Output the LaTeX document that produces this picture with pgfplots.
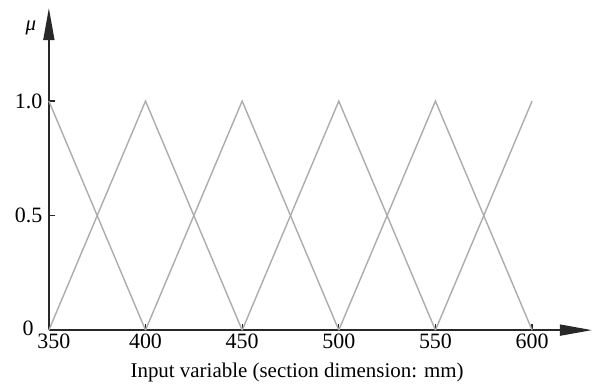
\documentclass[border=0pt]{standalone}
\usepackage{fontspec}
\setmainfont{Liberation Serif}
\usepackage{pgfplots}
\pgfplotsset{compat=1.18}
\usetikzlibrary{arrows.meta}
\definecolor{mf}{RGB}{172,172,172}
\definecolor{ax}{RGB}{40,40,40}
\begin{document}
\begin{tikzpicture}[x=1bp,y=1bp]
\begin{axis}[
  scale only axis, width=543bp, height=322bp,
  xmin=350, xmax=631, ymin=0, ymax=1.406,
  axis lines=left,
  axis line style={ax, line width=1.6bp},
  x axis line style={-{Triangle[length=32bp,width=11bp]}},
  y axis line style={-{Triangle[length=32bp,width=11bp]}},
  xtick={400,450,500,550,600},
  extra x ticks={350},
  extra x tick style={xticklabel style={xshift=5bp}},
  ytick={0.5,1},
  yticklabels={0.5,1.0},
  extra y ticks={0},
  extra y tick labels={0},
  extra y tick style={yticklabel style={xshift=-11bp, yshift=2bp, inner sep=1bp}},
  tick align=inside,
  major tick length=6bp,
  tick style={ax, line width=1.2bp},
  /pgf/number format/assume math mode=true,
  ticklabel style={font=\fontsize{22}{25}\selectfont},
  xticklabel style={yshift=-3bp, inner sep=1bp},
  yticklabel style={xshift=-3bp},
  xlabel={Input variable (section dimension: mm)},
  xlabel style={font=\fontsize{21}{24}\selectfont, at={(rel axis cs:0.457,-0.13)}, anchor=center},
  clip=false,
]
\addplot[mf, line width=1.4bp] coordinates {(350,1) (400,0)};
\addplot[mf, line width=1.4bp] coordinates {(350,0) (400,1) (450,0)};
\addplot[mf, line width=1.4bp] coordinates {(400,0) (450,1) (500,0)};
\addplot[mf, line width=1.4bp] coordinates {(450,0) (500,1) (550,0)};
\addplot[mf, line width=1.4bp] coordinates {(500,0) (550,1) (600,0)};
\addplot[mf, line width=1.4bp] coordinates {(550,0) (600,1)};
\node[font=\fontsize{21}{24}\selectfont\itshape] at (rel axis cs:-0.033,0.938) {μ};
\path[draw=none] (rel axis cs:-0.090,-0.165) rectangle (rel axis cs:1.0037,1.025);
\end{axis}
\end{tikzpicture}
\end{document}
